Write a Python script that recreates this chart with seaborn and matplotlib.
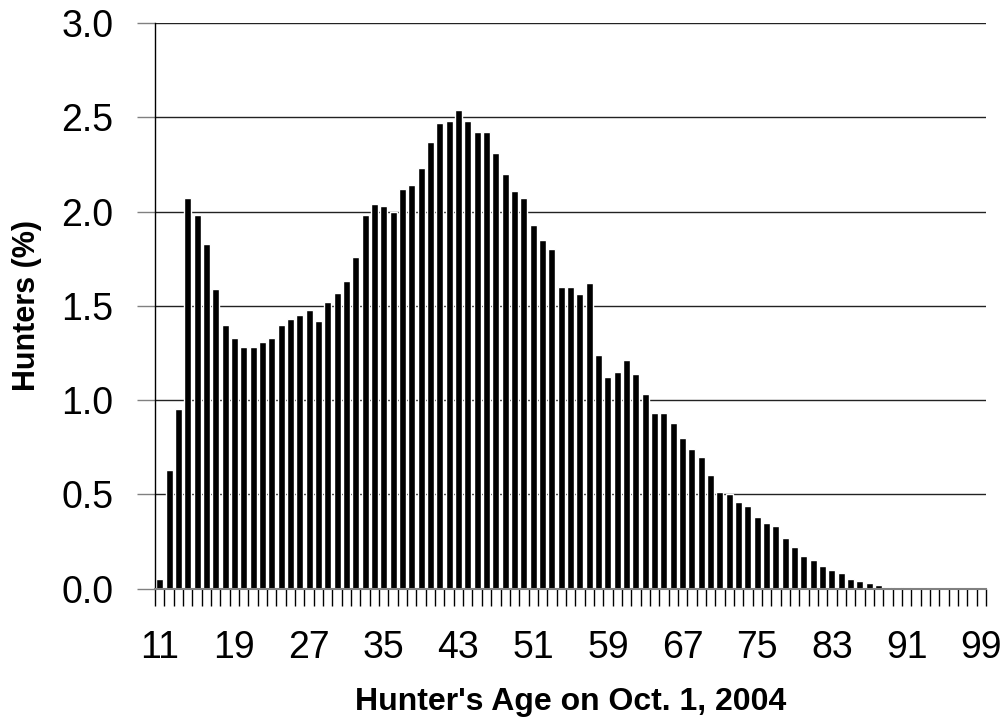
import numpy as np
import pandas as pd
import seaborn as sns
import matplotlib.pyplot as plt

# Ages of hunters, 11 to 99
ages = list(range(11, 100))

# Share of hunters at each age (%)
hunters_pct = [
    0.05, 0.63, 0.95, 2.07, 1.98, 1.83, 1.59, 1.40, 1.33, 1.28,   # 11-20
    1.28, 1.31, 1.33, 1.40, 1.43, 1.45, 1.48, 1.42, 1.52, 1.57,   # 21-30
    1.63, 1.76, 1.98, 2.04, 2.03, 2.00, 2.12, 2.14, 2.23, 2.37,   # 31-40
    2.47, 2.48, 2.54, 2.48, 2.42, 2.42, 2.31, 2.20, 2.11, 2.07,   # 41-50
    1.93, 1.85, 1.80, 1.60, 1.60, 1.56, 1.62, 1.24, 1.12, 1.15,   # 51-60
    1.21, 1.14, 1.03, 0.93, 0.93, 0.88, 0.80, 0.74, 0.70, 0.60,   # 61-70
    0.51, 0.50, 0.46, 0.44, 0.38, 0.35, 0.33, 0.27, 0.22, 0.17,   # 71-80
    0.15, 0.12, 0.10, 0.08, 0.05, 0.04, 0.03, 0.02, 0.01, 0.01,   # 81-90
    0.01, 0.0, 0.0, 0.0, 0.0, 0.0, 0.0, 0.0, 0.0,                 # 91-99
]

# Labelled ages on the x axis
label_ages = [11, 19, 27, 35, 43, 51, 59, 67, 75, 83, 91, 99]

df = pd.DataFrame({'age': ages, 'pct': hunters_pct})

sns.set_style('white')
plt.rcParams['font.family'] = ['Liberation Sans', 'DejaVu Sans']
plt.rcParams['text.color'] = 'black'
plt.rcParams['xtick.color'] = 'black'
plt.rcParams['ytick.color'] = 'black'
plt.rcParams['axes.labelcolor'] = 'black'

fig = plt.figure(figsize=(10.08, 7.23), dpi=100)
ax = fig.add_axes([0.1538, 0.186, 0.8244, 0.7822])

sns.barplot(data=df, x='age', y='pct', order=ages, color='black',
            saturation=1, width=0.75, ax=ax)

# Bars start from 0 on y, one slot per age on x
ax.set_ylim(0, 3.0)
ax.set_xlim(-0.5, len(ages) - 0.5)
ax.set_yticks(np.arange(0, 3.01, 0.5))
ax.set_yticklabels([f'{v:.1f}' for v in np.arange(0, 3.01, 0.5)])

# Labels at every 8th age, tick marks between the bars
ax.set_xticks([ages.index(a) for a in label_ages])
ax.set_xticklabels([str(a) for a in label_ages])
ax.set_xticks(np.arange(-0.5, len(ages), 1), minor=True)
ax.tick_params(axis='x', which='major', length=0, pad=30, labelsize=27, labelcolor='black')
ax.tick_params(axis='x', which='minor', length=12, width=1, color='black', bottom=True)
ax.tick_params(axis='y', length=13, width=1, color='#808080', pad=17, labelsize=27,
               labelcolor='black', left=True)

ax.yaxis.grid(True, color='#222222', linewidth=1)
ax.set_axisbelow(True)

for side in ['top', 'right']:
    ax.spines[side].set_visible(False)
ax.spines['left'].set_color('black')
ax.spines['left'].set_linewidth(1)
ax.spines['bottom'].set_color('#808080')
ax.spines['bottom'].set_linewidth(1.5)

ax.set_xlabel("Hunter's Age on Oct. 1, 2004", fontsize=23, fontweight='bold',
              labelpad=15, color='black')
ax.set_ylabel('Hunters (%)', fontsize=22, fontweight='bold', labelpad=14, color='black')

plt.savefig('out.png', dpi=100)
